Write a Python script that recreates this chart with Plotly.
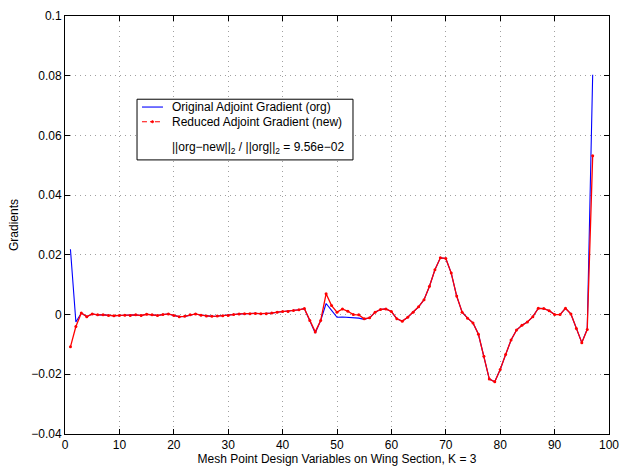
import plotly.graph_objects as go

# Design-variable index along the wing section
design_vars = list(range(1, 98))

# Gradient from the original adjoint solve
grad_org = [
    0.0219, -0.0025, 0.0005, -0.0007, 0.0002, -0.0001, -0.0001, -0.0003, -0.0004, -0.0003,
    -0.0002, -0.0003, -0.0001, -0.0003, 0.0001, -0.0001, -0.0003, 0.0000, 0.0002, -0.0003,
    -0.0007, -0.0006, -0.0001, 0.0002, -0.0002, -0.0005, -0.0006, -0.0005, -0.0004, -0.0003,
    0.0000, 0.0002, 0.0003, 0.0003, 0.0004, 0.0003, 0.0003, 0.0005, 0.0008, 0.0010,
    0.0010, 0.0014, 0.0016, 0.0020, -0.0020, -0.0062, -0.0020, 0.0037, 0.0014, -0.0009,
    -0.0008, -0.0009, -0.0011, -0.0012, -0.0016, -0.0011, 0.0008, 0.0017, 0.0019, 0.0010,
    -0.0014, -0.0022, -0.0009, 0.0008, 0.0026, 0.0050, 0.0095, 0.0150, 0.0190, 0.0188,
    0.0139, 0.0062, 0.0008, -0.0012, -0.0028, -0.0066, -0.0140, -0.0216, -0.0225, -0.0184,
    -0.0134, -0.0085, -0.0052, -0.0036, -0.0025, -0.0007, 0.0021, 0.0020, 0.0013, 0.0000,
    0.0000, 0.0021, 0.0002, -0.0047, -0.0094, -0.0048, 0.0803,
]

# Gradient from the reduced adjoint solve
grad_new = [
    -0.0108, -0.0040, 0.0005, -0.0007, 0.0002, -0.0001, -0.0001, -0.0003, -0.0004, -0.0003,
    -0.0002, -0.0003, -0.0001, -0.0003, 0.0001, -0.0001, -0.0003, 0.0000, 0.0002, -0.0003,
    -0.0007, -0.0006, -0.0001, 0.0002, -0.0002, -0.0005, -0.0006, -0.0005, -0.0004, -0.0003,
    0.0000, 0.0002, 0.0003, 0.0003, 0.0004, 0.0003, 0.0003, 0.0005, 0.0008, 0.0010,
    0.0010, 0.0014, 0.0016, 0.0020, -0.0020, -0.0058, -0.0020, 0.0070, 0.0030, 0.0008,
    0.0019, 0.0011, 0.0000, -0.0001, -0.0014, -0.0011, 0.0008, 0.0017, 0.0019, 0.0010,
    -0.0014, -0.0022, -0.0009, 0.0008, 0.0026, 0.0050, 0.0095, 0.0150, 0.0190, 0.0188,
    0.0139, 0.0062, 0.0008, -0.0012, -0.0028, -0.0066, -0.0140, -0.0216, -0.0225, -0.0184,
    -0.0134, -0.0085, -0.0052, -0.0036, -0.0025, -0.0007, 0.0021, 0.0020, 0.0013, 0.0000,
    0.0000, 0.0021, 0.0002, -0.0047, -0.0094, -0.0050, 0.0532,
]

x_ticks = [0, 10, 20, 30, 40, 50, 60, 70, 80, 90, 100]
y_ticks = [-0.04, -0.02, 0, 0.02, 0.04, 0.06, 0.08, 0.1]
y_tick_text = ["\u22120.04", "\u22120.02", "0", "0.02", "0.04", "0.06", "0.08", "0.1"]

legend_names = ["Original Adjoint Gradient (org)", "Reduced Adjoint Gradient (new)"]
norm_text = "||org\u2212new||<sub>2</sub> / ||org||<sub>2</sub> = 9.56e\u221202"

FONT = "Liberation Sans, Arial, sans-serif"
FS = 12

fig = go.Figure()
fig.add_trace(go.Scatter(
    x=design_vars, y=grad_org, mode="lines",
    line=dict(color="#0000ff", width=1.1),
    name=legend_names[0], showlegend=False,
))
fig.add_trace(go.Scatter(
    x=design_vars, y=grad_new, mode="lines+markers",
    line=dict(color="#ff0000", width=1.3),
    marker=dict(color="#ff0000", size=3),
    name=legend_names[1], showlegend=False,
))

axis_common = dict(
    showline=True, linecolor="black", linewidth=1, mirror="ticks",
    ticks="inside", ticklen=5, tickcolor="black", tickwidth=1,
    showgrid=True, gridcolor="#a0a0a0", griddash="1px,4px", gridwidth=1,
    zeroline=False, tickfont=dict(family=FONT, size=FS, color="black"),
)

fig.update_xaxes(
    range=[0, 100], tickvals=x_ticks,
    title=dict(text="Mesh Point Design Variables on Wing Section, K = 3",
               font=dict(family=FONT, size=FS, color="black"), standoff=3),
    **axis_common,
)
fig.update_yaxes(
    range=[-0.04, 0.1], tickvals=y_ticks, ticktext=y_tick_text,
    title=dict(text="Gradients", font=dict(family=FONT, size=FS, color="black"), standoff=10),
    **axis_common,
)

# Legend box drawn in the upper-left part of the axes
bx0, bx1, by0, by1 = 0.1324, 0.5294, 0.6557, 0.8009
fig.add_shape(type="rect", xref="paper", yref="paper", x0=bx0, x1=bx1, y0=by0, y1=by1,
              line=dict(color="black", width=1), fillcolor="white", layer="above")
rows_y = [0.7822, 0.7471]
sx0, sx1, tx = 0.1415, 0.1801, 0.1930
fig.add_shape(type="line", xref="paper", yref="paper", x0=sx0, x1=sx1, y0=rows_y[0], y1=rows_y[0],
              line=dict(color="#0000ff", width=1.1), layer="above")
fig.add_shape(type="line", xref="paper", yref="paper", x0=sx0, x1=sx1, y0=rows_y[1], y1=rows_y[1],
              line=dict(color="#ff0000", width=1.1, dash="5px,3px,2px,3px"), layer="above")
fig.add_shape(type="circle", xref="paper", yref="paper",
              x0=(sx0 + sx1) / 2 - 0.002, x1=(sx0 + sx1) / 2 + 0.002,
              y0=rows_y[1] - 0.0025, y1=rows_y[1] + 0.0025,
              line=dict(color="#ff0000", width=1), fillcolor="#ff0000", layer="above")
for name, yy in zip(legend_names, rows_y):
    fig.add_annotation(xref="paper", yref="paper", x=tx, y=yy, text=name, showarrow=False,
                       xanchor="left", yanchor="middle",
                       font=dict(family=FONT, size=FS, color="black"))
fig.add_annotation(xref="paper", yref="paper", x=tx, y=0.6838, text=norm_text, showarrow=False,
                   xanchor="left", yanchor="middle",
                   font=dict(family=FONT, size=FS, color="black"))

fig.update_layout(
    width=628, height=473,
    margin=dict(l=65, r=19, t=9, b=37),
    plot_bgcolor="white", paper_bgcolor="white",
    showlegend=False,
)

fig.write_html("out.html")
